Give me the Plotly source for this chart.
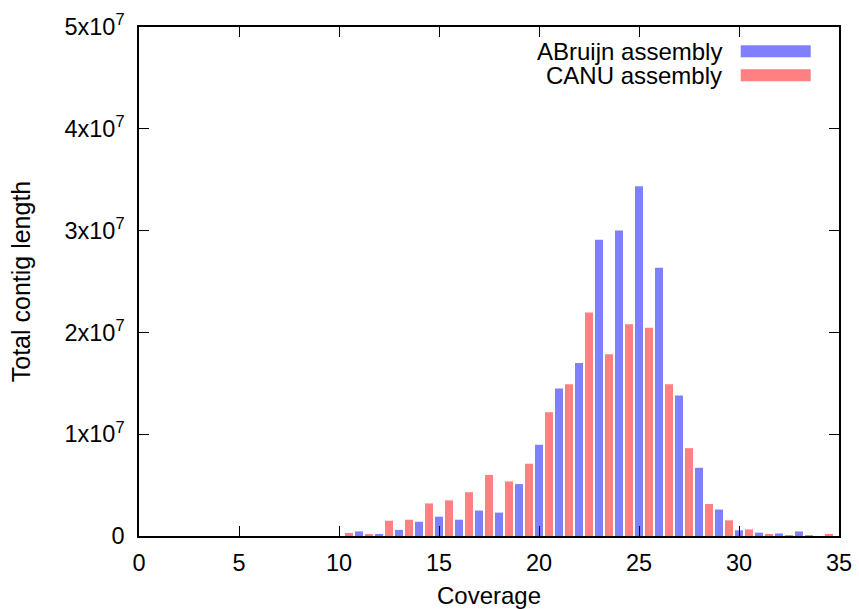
import plotly.graph_objects as go

# Data
coverage = list(range(10, 35))
abruijn = [0.0, 0.45e6, 0.2e6, 0.6e6, 1.4e6, 1.9e6, 1.6e6, 2.5e6, 2.3e6, 5.1e6,
           8.96e6, 14.5e6, 17.0e6, 29.1e6, 30.0e6, 34.35e6, 26.35e6, 13.8e6, 6.7e6, 2.6e6,
           0.56e6, 0.33e6, 0.25e6, 0.45e6, 0.0]
canu = [0.3e6, 0.1e6, 1.5e6, 1.6e6, 3.2e6, 3.5e6, 4.3e6, 6.0e6, 5.36e6, 7.1e6,
        12.16e6, 14.9e6, 21.96e6, 17.85e6, 20.8e6, 20.46e6, 14.9e6, 8.63e6, 3.14e6, 1.54e6,
        0.65e6, 0.2e6, 0.05e6, 0.05e6, 0.2e6]
series_names = ["ABruijn assembly", "CANU assembly"]
series_colors = ["#8080ff", "#ff8080"]

x_ticks = [0, 5, 10, 15, 20, 25, 30, 35]
y_ticks = [0, 1e7, 2e7, 3e7, 4e7, 5e7]
y_ticktext = ["0", "1x10<sup>7</sup>", "2x10<sup>7</sup>", "3x10<sup>7</sup>",
              "4x10<sup>7</sup>", "5x10<sup>7</sup>"]

FONT = "Liberation Sans, Arial, Helvetica, sans-serif"

fig = go.Figure()
fig.add_trace(go.Bar(x=coverage, y=abruijn, name=series_names[0], width=0.4, offset=-0.2,
                     marker=dict(color=series_colors[0], line=dict(width=0))))
fig.add_trace(go.Bar(x=coverage, y=canu, name=series_names[1], width=0.4, offset=0.3,
                     marker=dict(color=series_colors[1], line=dict(width=0))))

# Custom legend (gnuplot style: right-aligned text, wide colour swatch)
leg_y = [0.9524, 0.9053]
for name, col, yy in zip(series_names, series_colors, leg_y):
    fig.add_annotation(x=0.835, y=yy, xref="paper", yref="paper", text=name,
                       showarrow=False, xanchor="right", yanchor="middle",
                       font=dict(family=FONT, size=24, color="black"))
    fig.add_shape(type="rect", xref="paper", yref="paper", x0=0.8596, x1=0.9596,
                  y0=yy - 0.0118, y1=yy + 0.0118, fillcolor=col, line=dict(width=0))

fig.update_layout(
    width=859, height=609,
    margin=dict(l=139, r=20, t=27, b=73),
    plot_bgcolor="white", paper_bgcolor="white",
    barmode="overlay", showlegend=False,
    font=dict(family=FONT, size=23.5, color="black"),
    xaxis=dict(range=[0, 35], tickvals=x_ticks, ticks="inside", ticklen=10,
               tickcolor="black", showline=True, linecolor="black", linewidth=1.5,
               mirror="allticks", showgrid=False, zeroline=False, automargin=False,
               ticklabelstandoff=5,
               title=dict(text="Coverage", standoff=12, font=dict(size=24)),
               tickfont=dict(size=23.5)),
    yaxis=dict(range=[0, 5e7], tickvals=y_ticks, ticktext=y_ticktext, ticks="inside",
               ticklen=10, tickcolor="black", showline=True, linecolor="black",
               linewidth=1.5, mirror="allticks", showgrid=False, zeroline=False,
               automargin=False, ticklabelstandoff=8,
               title=dict(text="Total contig length", standoff=27, font=dict(size=25)),
               tickfont=dict(size=23.5)),
)

fig.write_html("out.html", config={"displayModeBar": False},
               post_script="document.body.style.margin='0';")
